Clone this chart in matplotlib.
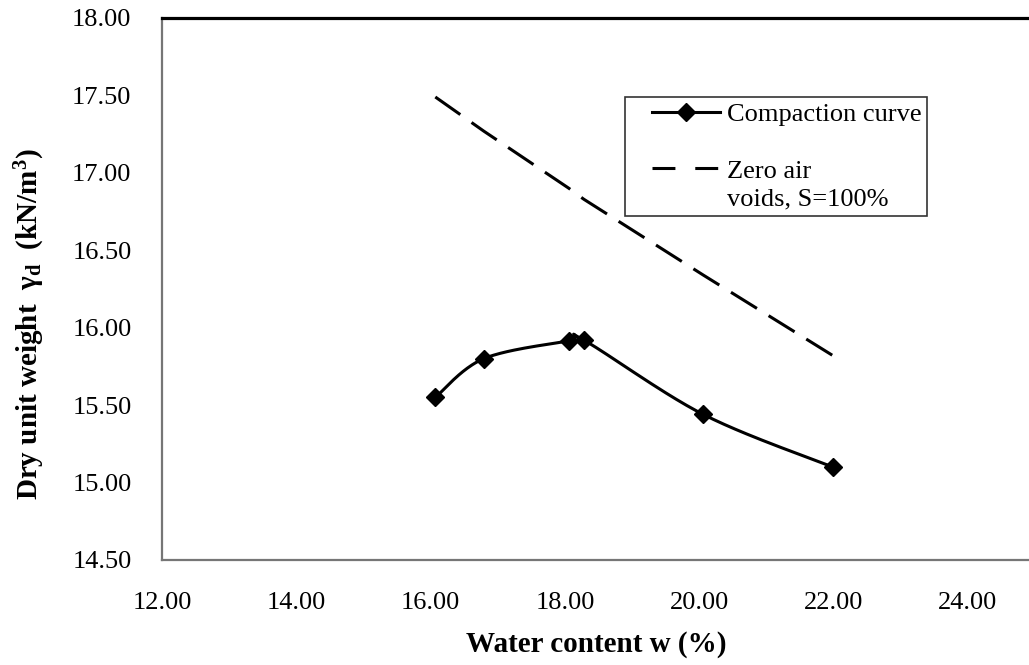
import numpy as np
import matplotlib
matplotlib.use('Agg')
import matplotlib.pyplot as plt
from matplotlib.lines import Line2D
from matplotlib.legend_handler import HandlerLine2D

# ---- data ----
water_content = [16.07, 16.79, 18.06, 18.28, 20.06, 21.99]
dry_unit_weight = [15.55, 15.80, 15.915, 15.92, 15.44, 15.10]
zav_water = [16.07, 16.79, 18.06, 18.28, 20.06, 21.99]
zav_weight = [17.49, 17.27, 16.90, 16.83, 16.34, 15.82]
x_ticks = [12, 14, 16, 18, 20, 22, 24]
y_ticks = [14.5, 15.0, 15.5, 16.0, 16.5, 17.0, 17.5, 18.0]
x_label = "Water content w (%)"
y_label = r"Dry unit weight  $\mathbf{γ_d}$  (kN/m$\mathbf{^3}$)"
legend_labels = ["Compaction curve", "Zero air\nvoids, S=100%"]

plt.rcParams['font.family'] = ['Liberation Serif', 'DejaVu Serif']
plt.rcParams['mathtext.fontset'] = 'custom'
plt.rcParams['mathtext.rm'] = 'Liberation Serif'
plt.rcParams['mathtext.it'] = 'Liberation Serif:italic'
plt.rcParams['mathtext.bf'] = 'Liberation Serif:bold'


def smooth(xs, ys, n=40):
    """Catmull-Rom style Bezier smoothing (like a spreadsheet smoothed line)."""
    p = np.column_stack([xs, ys]).astype(float)
    pts = np.vstack([p[0], p, p[-1]])
    out = []
    t = np.linspace(0, 1, n)[:, None]
    for i in range(1, len(pts) - 2):
        p0, p1, p2, p3 = pts[i - 1], pts[i], pts[i + 1], pts[i + 2]
        c1 = p1 + (p2 - p0) / 6.0
        c2 = p2 - (p3 - p1) / 6.0
        seg = ((1 - t) ** 3) * p1 + 3 * ((1 - t) ** 2) * t * c1 + 3 * (1 - t) * t ** 2 * c2 + t ** 3 * p2
        out.append(seg if i == 1 else seg[1:])
    s = np.vstack(out)
    return s[:, 0], s[:, 1]


class OffsetHandler(HandlerLine2D):
    """Legend handle drawn on the right part of the handle box, optionally raised."""
    def __init__(self, start_frac=0.0, dy_lines=0.0, **kw):
        super().__init__(**kw)
        self.start_frac = start_frac
        self.dy_lines = dy_lines

    def create_artists(self, legend, orig_handle, xdescent, ydescent,
                       width, height, fontsize, trans):
        arts = super().create_artists(legend, orig_handle, xdescent, ydescent,
                                      width, height, fontsize, trans)
        for a in arts:
            x = np.asarray(a.get_xdata(), float)
            y = np.asarray(a.get_ydata(), float)
            lo, hi = x.min(), x.max()
            a.set_xdata(lo + self.start_frac * (hi - lo) + (x - lo) * (1 - self.start_frac))
            a.set_ydata(y + self.dy_lines * fontsize)
        return arts


W, H = 1029, 665
fig = plt.figure(figsize=(W / 100, H / 100), dpi=100)
x0, x1, y0, y1 = 162, 1035, 18, 560
ax = fig.add_axes([x0 / W, 1 - y1 / H, (x1 - x0) / W, (y1 - y0) / H])
ax.set_xlim(12, 25)
ax.set_ylim(14.5, 18.0)

sx, sy = smooth(water_content, dry_unit_weight)
ax.plot(sx, sy, color='black', lw=2.2, solid_capstyle='round')
ax.plot(water_content, dry_unit_weight, linestyle='none', marker='D',
        color='black', markersize=9)
ax.plot(zav_water, zav_weight, color='black', lw=2.2, dashes=(10, 4.5))

fs_leg = 19
line_sp = 1.3
h1 = Line2D([], [], color='black', lw=2.2, marker='D', markersize=9)
h2 = Line2D([], [], color='black', lw=2.2, dashes=(7.5, 6.5))
leg = ax.legend([h1, h2], legend_labels, loc='upper left',
                bbox_to_anchor=(625 / W, 1 - 97 / H), bbox_transform=fig.transFigure,
                frameon=True, fancybox=False, fontsize=fs_leg, handlelength=3.4,
                handletextpad=0.27, borderpad=0.2, labelspacing=1.35,
                borderaxespad=0,
                handler_map={h1: OffsetHandler(start_frac=0.24),
                             h2: OffsetHandler(start_frac=0.24, dy_lines=0.5 * line_sp)})
for t in leg.get_texts():
    t.set_linespacing(line_sp)
leg.get_frame().set_edgecolor('black')
leg.get_frame().set_linewidth(1.2)

ax.set_xticks(x_ticks)
ax.set_xticklabels([f"{v:.2f}" for v in x_ticks])
ax.set_yticks(y_ticks)
ax.set_yticklabels([f"{v:.2f}" for v in y_ticks])
ax.tick_params(length=0, labelsize=19)
ax.tick_params(axis='y', pad=22)
ax.tick_params(axis='x', pad=23)

for side in ['left', 'bottom']:
    ax.spines[side].set_color('#767676')
    ax.spines[side].set_linewidth(1.6)
ax.spines['top'].set_color('black')
ax.spines['top'].set_linewidth(2.3)
ax.spines['right'].set_visible(False)

fig.text(596 / W, 1 - 645 / H, x_label, ha='center', va='center',
         fontsize=21, fontweight='bold')
fig.text(30 / W, 1 - 324 / H, y_label, ha='center', va='center',
         rotation=90, fontsize=21, fontweight='bold')

fig.savefig('out.png', dpi=100)
